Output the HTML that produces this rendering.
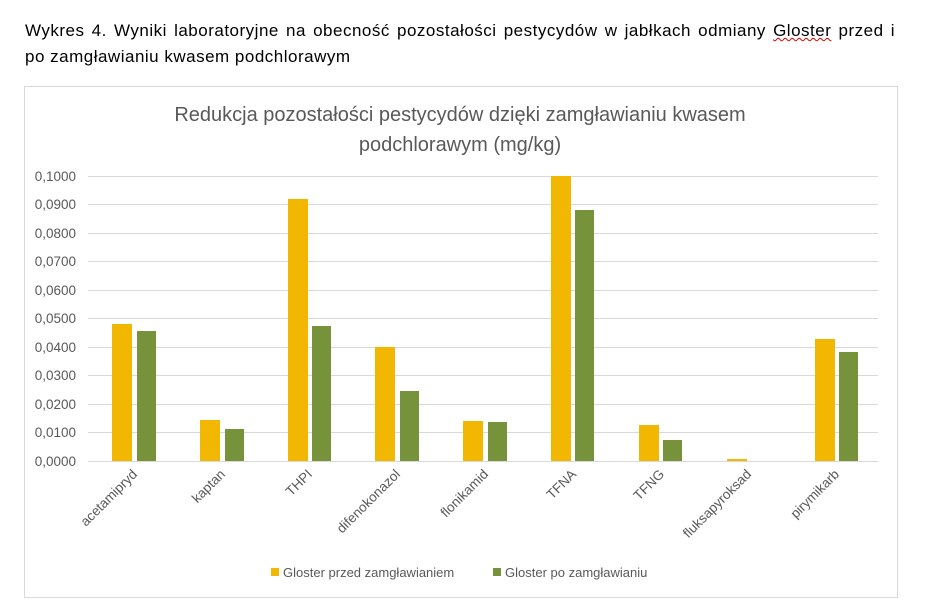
<!DOCTYPE html>
<html><head><meta charset="utf-8"><style>
body{margin:0;background:#fff;width:936px;height:609px;overflow:hidden;font-family:"Liberation Sans",sans-serif}
.h{position:absolute;left:25px;font-size:17px;letter-spacing:0.5px;line-height:26px;color:#000;white-space:nowrap}
.j{width:870px;text-align:justify;text-align-last:justify}
</style></head><body>
<div class="h j" style="top:18px">Wykres 4. Wyniki laboratoryjne na obecność pozostałości pestycydów w jabłkach odmiany <span style="text-decoration:underline wavy #d00;text-decoration-thickness:1px">Gloster</span> przed i</div>
<div class="h" style="top:44px">po zamgławianiu kwasem podchlorawym</div>
<svg width="936" height="609" style="position:absolute;left:0;top:0">
<rect x="24.5" y="86.5" width="873" height="511" fill="none" stroke="#d9d9d9"/>
<text x="460" y="121" font-size="20" fill="#595959" text-anchor="middle">Redukcja pozostałości pestycydów dzięki zamgławianiu kwasem</text>
<text x="460" y="151" font-size="20" fill="#595959" text-anchor="middle">podchlorawym (mg/kg)</text>
<g stroke="#d9d9d9" stroke-width="1">
<line x1="88" x2="878" y1="176.5" y2="176.5"/><line x1="88" x2="878" y1="204.5" y2="204.5"/>
<line x1="88" x2="878" y1="233.5" y2="233.5"/><line x1="88" x2="878" y1="261.5" y2="261.5"/>
<line x1="88" x2="878" y1="290.5" y2="290.5"/><line x1="88" x2="878" y1="318.5" y2="318.5"/>
<line x1="88" x2="878" y1="347.5" y2="347.5"/><line x1="88" x2="878" y1="375.5" y2="375.5"/>
<line x1="88" x2="878" y1="404.5" y2="404.5"/><line x1="88" x2="878" y1="432.5" y2="432.5"/>
<line x1="88" x2="878" y1="461.5" y2="461.5"/>
</g>
<g font-size="13.5" fill="#595959" text-anchor="end">
<text x="76" y="181">0,1000</text><text x="76" y="209">0,0900</text><text x="76" y="238">0,0800</text>
<text x="76" y="266">0,0700</text><text x="76" y="295">0,0600</text><text x="76" y="323">0,0500</text>
<text x="76" y="352">0,0400</text><text x="76" y="380">0,0300</text><text x="76" y="409">0,0200</text>
<text x="76" y="437">0,0100</text><text x="76" y="466">0,0000</text>
</g>
<g fill="#f2b700">
<rect x="112" y="324" width="20" height="137"/><rect x="200" y="420" width="20" height="41"/>
<rect x="288" y="199" width="20" height="262"/><rect x="375" y="347" width="20" height="114"/>
<rect x="463" y="421" width="20" height="40"/><rect x="551" y="176" width="20" height="285"/>
<rect x="639" y="425" width="20" height="36"/><rect x="727" y="459" width="20" height="2"/>
<rect x="815" y="339" width="20" height="122"/>
</g>
<g fill="#76923b">
<rect x="137" y="331" width="19" height="130"/><rect x="225" y="429" width="19" height="32"/>
<rect x="312" y="326" width="19" height="135"/><rect x="400" y="391" width="19" height="70"/>
<rect x="488" y="422" width="19" height="39"/><rect x="575" y="210" width="19" height="251"/>
<rect x="663" y="440" width="19" height="21"/><rect x="839" y="352" width="19" height="109"/>
</g>
<g font-size="13.5" fill="#595959" text-anchor="end">
<text transform="translate(138,475) rotate(-45)">acetamipryd</text>
<text transform="translate(226,475) rotate(-45)">kaptan</text>
<text transform="translate(313,475) rotate(-45)">THPI</text>
<text transform="translate(401,475) rotate(-45)">difenokonazol</text>
<text transform="translate(489,475) rotate(-45)">flonikamid</text>
<text transform="translate(577,475) rotate(-45)">TFNA</text>
<text transform="translate(665,475) rotate(-45)">TFNG</text>
<text transform="translate(752,475) rotate(-45)">fluksapyroksad</text>
<text transform="translate(840,475) rotate(-45)">pirymikarb</text>
</g>
<rect x="271" y="568" width="8" height="8" fill="#f2b700"/>
<text x="283" y="577" font-size="13" fill="#595959">Gloster przed zamgławianiem</text>
<rect x="493" y="568" width="8" height="8" fill="#76923b"/>
<text x="505" y="577" font-size="13" fill="#595959">Gloster po zamgławianiu</text>
</svg>
</body></html>
